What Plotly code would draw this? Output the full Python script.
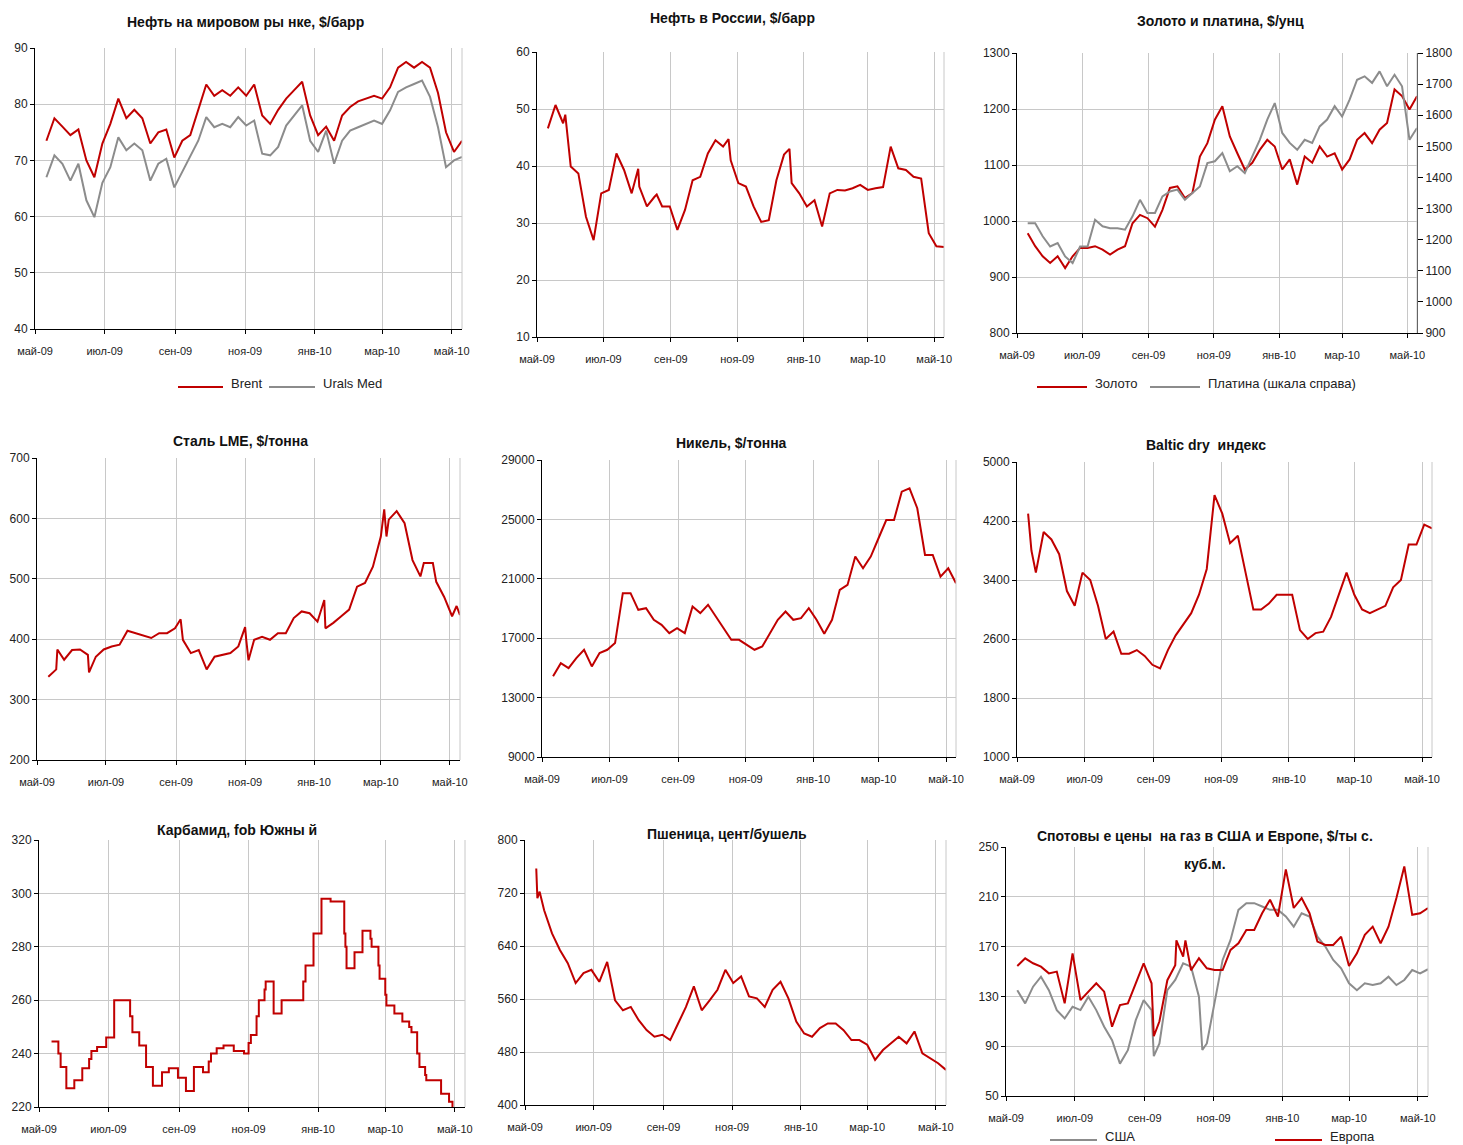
import plotly.graph_objects as go
import pandas as pd

W, H = 1463, 1145
RED = "#C00000"
GREY = "#8C8C8C"
GRID = "#C8C8C8"
FONT = "Liberation Sans, Arial, sans-serif"

WEEKS = pd.date_range("2009-05-11", periods=53, freq="7D")

MONTH_TICKS = ["2009-05-01", "2009-07-01", "2009-09-01", "2009-11-01",
               "2010-01-01", "2010-03-01", "2010-05-01"]
MONTH_LABELS = ["май-09", "июл-09", "сен-09", "ноя-09", "янв-10", "мар-10", "май-10"]

BRENT = [73.5, 77.5, 76, 74.5, 75.5, 70, 67, 73, 76.5, 81, 77.5, 79, 77.5, 73, 75, 75.5,
         70.5, 73.5, 74.5, 79, 83.5, 81.5, 82.5, 81.5, 83, 81.5, 83.5, 78, 76.5, 79, 81,
         82.5, 84, 78, 74.5, 76, 73.5, 78, 79.5, 80.5, 81, 81.5, 81, 83, 86.5, 87.5, 86.5,
         87.5, 86.5, 82, 75, 71.5, 73.5]
URALS = [67, 70.9, 69.4, 66.4, 69.4, 62.9, 59.9, 66, 68.8, 74.1, 71.8, 73, 71.8, 66.4,
         69.4, 70.3, 65.2, 67.9, 70.6, 73.5, 77.7, 75.9, 76.5, 75.9, 77.7, 76.2, 77.1, 71.2,
         70.9, 72.4, 76.2, 78, 79.8, 73.5, 71.5, 75.3, 69.4, 73.5, 75.3, 75.9, 76.5, 77.1,
         76.5, 78.9, 82.2, 83, 83.6, 84.2, 81.3, 75.9, 68.8, 70, 70.6]
RUS_OIL = [46.6, 50.7, 47.5, 39.9, 38.7, 31.1, 27, 35.2, 35.8, 42.2, 39.3, 35.2, 36.4, 32.9,
           34.6, 32.9, 32.9, 28.8, 32.3, 37.5, 38.1, 42.2, 44.5, 43.4, 41, 37, 36.4, 32.9,
           30.2, 30.5, 37.5, 42, 37, 35.2, 32.9, 34, 29.4, 35.2, 35.8, 35.7, 36.1, 36.7,
           35.8, 36.1, 36.3, 43.4, 39.6, 39.3, 38.1, 37.8, 28.2, 25.9, 25.8]
RUS_OIL_X_DATES = ["2009-05-27", "2009-08-02", "2009-08-19", "2009-10-24", "2009-12-19"]
RUS_OIL_X = [49, 39.5, 35, 44.7, 43]
GOLD = [978, 955, 937, 925, 937, 916, 937, 952, 952, 955, 949, 940, 949, 955, 996, 1011,
        1005, 990, 1020, 1059, 1062, 1041, 1050, 1115, 1139, 1181, 1205, 1151, 1121, 1092,
        1104, 1127, 1145, 1133, 1092, 1110, 1065, 1115, 1104, 1133, 1115, 1121, 1092, 1110,
        1145, 1157, 1139, 1163, 1175, 1235, 1223, 1199, 1223]
PLATINUM = [1253, 1253, 1211, 1178, 1189, 1146, 1125, 1178, 1178, 1264, 1243, 1237, 1237,
            1232, 1275, 1328, 1286, 1286, 1339, 1355, 1361, 1328, 1350, 1371, 1446, 1452,
            1478, 1420, 1436, 1414, 1468, 1521, 1586, 1639, 1543, 1511, 1489, 1521, 1511,
            1564, 1586, 1629, 1596, 1650, 1714, 1725, 1704, 1741, 1693, 1730, 1693, 1521, 1559]
STEEL = [338, 350, 366, 382, 383, 374, 371, 383, 388, 391, 414, 410, 407, 402, 410, 410, 418,
         399, 377, 382, 350, 371, 374, 377, 388, 399, 399, 404, 399, 410, 410, 435, 446, 443,
         429, 418, 427, 438, 449, 487, 493, 520, 570, 598, 612, 592, 531, 504, 526, 495, 470,
         438, 440]
STEEL_X_DATES = ["2009-05-19", "2009-06-16", "2009-09-05", "2009-11-01", "2009-11-04",
                 "2010-01-10", "2010-03-04", "2010-03-06", "2010-04-08", "2010-04-16",
                 "2010-05-07"]
STEEL_X = [383, 345, 433, 420, 365, 465, 615, 570, 526, 526, 455]
NICKEL = [14430, 15320, 14990, 15660, 16220, 15100, 16000, 16220, 16670, 20030, 20030, 18910,
          19020, 18240, 17900, 17340, 17680, 17340, 19130, 18690, 19250, 18460, 17680, 16890,
          16890, 16560, 16220, 16440, 17340, 18240, 18800, 18240, 18350, 19020, 18240, 17300,
          18240, 20260, 20590, 22500, 21710, 22500, 23730, 24960, 24960, 26870, 27090, 25750,
          22610, 22610, 21150, 21710, 20700]
BDI = [4300, 3500, 4050, 3950, 3750, 3250, 3050, 3500, 3400, 3050, 2600, 2700, 2400, 2400,
       2450, 2370, 2250, 2200, 2450, 2650, 2800, 2950, 3200, 3550, 4550, 4300, 3900, 4000,
       3500, 3000, 3000, 3080, 3200, 3200, 3200, 2720, 2600, 2680, 2700, 2900, 3200, 3500,
       3200, 3000, 2950, 3000, 3050, 3300, 3400, 3880, 3880, 4150, 4100]
BDI_X_DATES = ["2009-05-12", "2009-05-14"]
BDI_X = [4100, 3800]
UREA_DATES = ["2009-05-12", "2009-05-18", "2009-05-20", "2009-05-25", "2009-06-01",
              "2009-06-08", "2009-06-14", "2009-06-16", "2009-06-21", "2009-06-29",
              "2009-07-06", "2009-07-20", "2009-07-22", "2009-07-28", "2009-08-03",
              "2009-08-09", "2009-08-17", "2009-08-23", "2009-08-31", "2009-09-07",
              "2009-09-14", "2009-09-22", "2009-09-27", "2009-09-29", "2009-10-04",
              "2009-10-10", "2009-10-19", "2009-10-28", "2009-11-01", "2009-11-03",
              "2009-11-08", "2009-11-10", "2009-11-15", "2009-11-16", "2009-11-23",
              "2009-11-30", "2009-12-19", "2009-12-21", "2009-12-28", "2010-01-04",
              "2010-01-12", "2010-01-24", "2010-01-25", "2010-01-26", "2010-02-02",
              "2010-02-09", "2010-02-16", "2010-02-17", "2010-02-23", "2010-02-24",
              "2010-03-01", "2010-03-02", "2010-03-09", "2010-03-16", "2010-03-22",
              "2010-03-24", "2010-03-29", "2010-03-31", "2010-04-05", "2010-04-06",
              "2010-04-19", "2010-04-26", "2010-04-29"]
UREA = [244.5, 240, 235, 227, 230, 234.5, 238, 241, 242.5, 246, 260, 254, 248, 243, 235, 228,
        233, 234.5, 231, 226, 235, 233, 237, 240, 242, 243, 241, 240, 244, 247, 254, 260, 264,
        267, 255, 260, 267, 273, 285, 298, 297, 285, 280, 272, 278, 286, 283, 280, 273, 268,
        262, 258, 255, 252, 250, 248, 240, 235, 232, 230, 225, 222, 220]
WHEAT = [757, 694, 659, 634, 614, 584, 599, 604, 586, 616, 558, 543, 548, 528, 513, 503, 506,
         498, 523, 548, 579, 543, 558, 574, 604, 584, 594, 564, 561, 548, 574, 586, 561, 526,
         508, 503, 516, 523, 523, 513, 498, 498, 491, 468, 483, 493, 503, 493, 511, 478, 470,
         463, 453]
WHEAT_X_DATES = ["2009-05-12", "2009-05-14"]
WHEAT_X = [712, 722]
GAS_EU = [154.4, 160.6, 156.6, 153.9, 148.5, 149.9, 124.4, 164.6, 127, 133.8, 140.5, 133.8,
          105.6, 123, 124.4, 140.5, 156.6, 140.5, 110, 143, 155, 162, 151, 160.6, 152.6,
          151.2, 151.2, 167.3, 172.7, 183.4, 183.4, 196.8, 207.6, 194.2, 232, 201, 209, 196.8,
          174, 171.3, 171.3, 178, 154.4, 164.6, 179.4, 186, 172.7, 186, 209, 234.4, 195.5,
          196.8, 200.9]
GAS_EU_X_DATES = ["2009-09-09", "2009-09-29", "2009-10-07"]
GAS_EU_X = [98, 175, 175]
GAS_US = [135, 124.4, 137.8, 145.8, 135, 119, 112.3, 121.7, 119, 129.7, 119, 105.6, 94.8, 76,
          86.8, 110.9, 127, 119, 92.2, 135, 143.2, 156.6, 153.9, 129.7, 92.2, 124.4, 159.3,
          175.4, 199.5, 204.9, 204.9, 202.2, 199.5, 199.5, 194.2, 186, 196.8, 194.2, 178, 170,
          159.3, 152.6, 140.5, 135, 140.5, 139.1, 140.5, 145.8, 139.1, 143.2, 151.2, 148.5,
          151.8]
GAS_US_X_DATES = ["2009-09-09", "2009-10-22"]
GAS_US_X = [82, 87]

# layout: plot boxes in px (left, top, right, bottom) + y range & step
PANELS = [
    ((35, 48, 462, 329), (40, 90, 10)),
    ((537, 52, 944, 337), (10, 60, 10)),
    ((1017, 53, 1417, 333), (800, 1300, 100)),
    ((37, 458, 460, 760), (200, 700, 100)),
    ((542, 460, 956, 757), (9000, 29000, 4000)),
    ((1017, 462, 1432, 757), (1000, 5000, 800)),
    ((39, 840, 465, 1107), (220, 320, 20)),
    ((525, 840, 946, 1105), (400, 800, 80)),
    ((1006, 847, 1428, 1096), (50, 250, 40)),
]

TITLES = [
    ("Нефть на мировом ры нке, $/барр", 245, 22),
    ("Нефть в России, $/барр", 732, 18),
    ("Золото и платина, $/унц", 1220, 21),
    ("Сталь LME, $/тонна", 240, 441),
    ("Никель, $/тонна", 731, 443),
    ("Baltic dry  индекс", 1206, 445),
    ("Карбамид, fob Южны й", 237, 830),
    ("Пшеница, цент/бушель", 727, 834),
    ("Спотовы е цены  на газ в США и Европе, $/ты с.", 1205, 836),
    ("куб.м.", 1205, 864),
]


def merged(dates, vals, xdates=(), xvals=()):
    s = pd.Series(list(vals) + list(xvals),
                  index=list(pd.to_datetime(dates)) + list(pd.to_datetime(list(xdates))))
    s = s.sort_index()
    return s.index, s.values


fig = go.Figure()


def sid(k):
    return "" if k == 1 else str(k)


shapes = []
for k, ((l, t, r, b), (y0, y1, dt)) in enumerate(PANELS, start=1):
    s = sid(k)
    fig.update_layout(**{
        "xaxis" + s: dict(domain=[l / W, r / W], anchor="y" + s, type="date",
                          range=["2009-05-01", "2010-05-10"], tickmode="array",
                          tickvals=MONTH_TICKS, ticktext=MONTH_LABELS,
                          showgrid=True, gridcolor=GRID, gridwidth=1,
                          showline=True, linecolor="black", linewidth=1,
                          ticks="outside", ticklen=4, tickcolor="black",
                          ticklabelstandoff=8,
                          tickfont=dict(size=11, color="#222"), zeroline=False,
                          automargin=False),
        "yaxis" + s: dict(domain=[1 - b / H, 1 - t / H], anchor="x" + s,
                          range=[y0, y1], tick0=y0, dtick=dt, tickformat="d",
                          showgrid=True, gridcolor=GRID, gridwidth=1,
                          showline=True, linecolor="black", linewidth=1,
                          ticks="outside", ticklen=4, tickcolor="black",
                          tickfont=dict(size=12, color="#222"), zeroline=False,
                          automargin=False),
    })
    shapes.append(dict(type="line", xref="x" + s + " domain", yref="y" + s + " domain",
                       x0=1, x1=1, y0=0, y1=1, line=dict(color=GRID, width=1)))

# secondary axis for platinum
fig.update_layout(yaxis10=dict(overlaying="y3", side="right", anchor="x3",
                               range=[900, 1800], tick0=900, dtick=100, tickformat="d",
                               showgrid=False, showline=True, linecolor="black",
                               linewidth=1, ticks="outside", ticklen=5, tickcolor="black",
                               tickfont=dict(size=12, color="#222"), zeroline=False,
                               automargin=False))


def line(xy, k, color, yaxis=None, shape="linear"):
    s = sid(k)
    x, y = xy
    fig.add_trace(go.Scatter(x=x, y=y, mode="lines", xaxis="x" + s,
                             yaxis=yaxis or ("y" + s),
                             line=dict(color=color, width=2, shape=shape),
                             showlegend=False, hoverinfo="skip"))


line(merged(WEEKS, URALS), 1, GREY)
line(merged(WEEKS, BRENT), 1, RED)
line(merged(WEEKS, RUS_OIL, RUS_OIL_X_DATES, RUS_OIL_X), 2, RED)
line(merged(WEEKS, GOLD), 3, RED)
line(merged(WEEKS, PLATINUM), 3, GREY, yaxis="y10")
line(merged(WEEKS, STEEL, STEEL_X_DATES, STEEL_X), 4, RED)
line(merged(WEEKS, NICKEL), 5, RED)
line(merged(WEEKS, BDI, BDI_X_DATES, BDI_X), 6, RED)
line(merged(UREA_DATES, UREA), 7, RED, shape="hv")
line(merged(WEEKS, WHEAT, WHEAT_X_DATES, WHEAT_X), 8, RED)
line(merged(WEEKS, GAS_US, GAS_US_X_DATES, GAS_US_X), 9, GREY)
line(merged(WEEKS, GAS_EU, GAS_EU_X_DATES, GAS_EU_X), 9, RED)

annotations = []
for text, cx, cy in TITLES:
    annotations.append(dict(text="<b>" + text + "</b>", x=cx / W, y=1 - cy / H,
                            xref="paper", yref="paper", xanchor="center",
                            yanchor="middle", showarrow=False,
                            font=dict(size=14, color="#111", family=FONT)))

LEGENDS = [
    (178, 223, 387, 383, RED, "Brent"),
    (269, 315, 387, 383, GREY, "Urals Med"),
    (1037, 1087, 387, 383, RED, "Золото"),
    (1150, 1200, 387, 383, GREY, "Платина (шкала справа)"),
    (1050, 1097, 1140, 1136, GREY, "США"),
    (1275, 1322, 1140, 1136, RED, "Европа"),
]
for x0, x1, yy, ty, col, txt in LEGENDS:
    shapes.append(dict(type="line", xref="paper", yref="paper", x0=x0 / W, x1=x1 / W,
                       y0=1 - yy / H, y1=1 - yy / H, line=dict(color=col, width=2)))
    annotations.append(dict(text=txt, x=(x1 + 6) / W, y=1 - ty / H, xref="paper",
                            yref="paper", xanchor="left", yanchor="middle",
                            showarrow=False, font=dict(size=13, color="#222", family=FONT)))

fig.update_layout(width=W, height=H, margin=dict(l=0, r=0, t=0, b=0, autoexpand=False),
                  paper_bgcolor="white", plot_bgcolor="white",
                  font=dict(family=FONT, color="#222"),
                  shapes=shapes, annotations=annotations, showlegend=False)

fig.write_html("out.html", config={"displayModeBar": False},
               post_script="document.body.style.margin='0';document.body.style.overflow='hidden';")
